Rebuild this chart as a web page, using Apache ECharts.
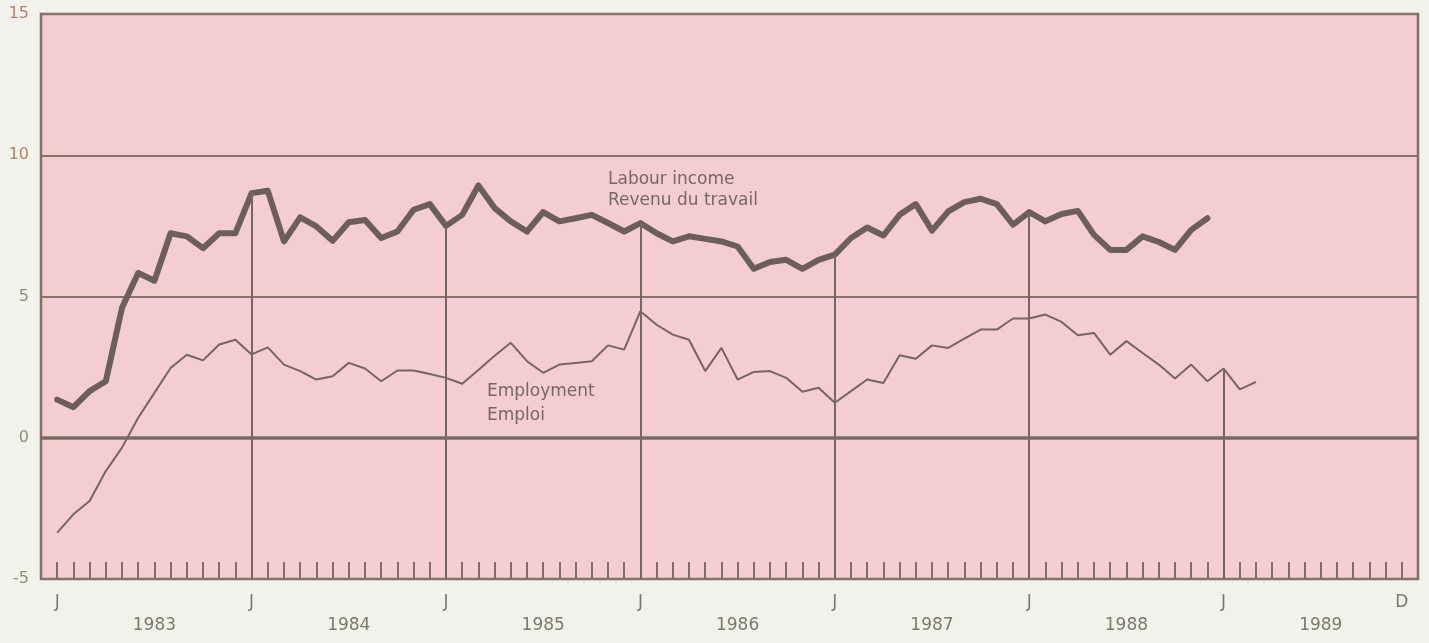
<!DOCTYPE html>
<html>
<head>
<meta charset="utf-8">
<script src="https://cdn.jsdelivr.net/npm/echarts@6/dist/echarts.min.js"></script>
<style>
  html, body { margin: 0; padding: 0; background: #f2f2ec; }
  #chart { width: 1429px; height: 643px; }
</style>
</head>
<body>
<div id="chart"></div>
<script>
// months counted from Jan 1983 (index 0) to Dec 1989 (index 83)
const years = [1983, 1984, 1985, 1986, 1987, 1988, 1989];
const yearStarts = [12, 24, 36, 48, 60, 72];

// Labour income, Jan 1983 - Dec 1988
const labour = [
  1.35, 1.08, 1.65, 2.0, 4.6, 5.83, 5.56, 7.24, 7.13, 6.71, 7.24, 7.24,
  8.66, 8.74, 6.95, 7.8, 7.48, 6.97, 7.63, 7.71, 7.07, 7.3, 8.07, 8.27,
  7.5, 7.89, 8.93, 8.13, 7.66, 7.3, 7.99, 7.66, 7.77, 7.89, 7.6, 7.3,
  7.6, 7.24, 6.95, 7.13, 7.04, 6.95, 6.77, 5.98, 6.22, 6.3, 5.98, 6.3,
  6.48, 7.07, 7.44, 7.16, 7.89, 8.27, 7.33, 8.01, 8.34, 8.46, 8.27, 7.54,
  7.99, 7.66, 7.92, 8.03, 7.18, 6.65, 6.65, 7.13, 6.93, 6.65, 7.36, 7.77
];

// Employment, Jan 1983 - Mar 1989
const employment = [
  -3.36, -2.71, -2.24, -1.18, -0.35, 0.71, 1.59, 2.47, 2.94, 2.74, 3.3, 3.47,
  2.95, 3.2, 2.59, 2.36, 2.06, 2.18, 2.65, 2.45, 2.0, 2.38, 2.38, 2.26,
  2.12, 1.91, 2.4, 2.9, 3.36, 2.71, 2.3, 2.59, 2.65, 2.71, 3.27, 3.12,
  4.48, 4.0, 3.65, 3.47, 2.36, 3.18, 2.06, 2.33, 2.36, 2.12, 1.63, 1.77,
  1.24, 1.65, 2.06, 1.94, 2.92, 2.8, 3.27, 3.18, 3.51, 3.83, 3.83, 4.22,
  4.22, 4.36, 4.1, 3.63, 3.71, 2.94, 3.42, 3.0, 2.59, 2.1, 2.59, 2.0,
  2.45, 1.71, 1.98
];

const lineColor = "#6c5e58";
const gridColor = "#7f6f66";
const textColor = "#76695f";

const chart = echarts.init(document.getElementById("chart"));

// vertical year lines rise from the bottom to the upper curve
const yearLines = yearStarts.map((i) => {
  const top = Math.max(
    labour[i] !== undefined ? labour[i] : -5,
    employment[i] !== undefined ? employment[i] : -5
  );
  return [{ coord: [i, -5] }, { coord: [i, top] }];
});

const monthLabel = (v) => {
  if (v === 83) return "D";
  if (v >= 0 && v < 84 && v % 12 === 0) return "J";
  if (v >= 0 && v < 84 && v % 12 === 6) return "\n" + years[Math.floor(v / 12)];
  return "";
};

chart.setOption({
  animation: false,
  backgroundColor: "#f2f2ec",
  grid: {
    left: 41,
    right: 11,
    top: 14,
    bottom: 64,
    show: true,
    backgroundColor: "#f3cdd0",
    borderColor: gridColor,
    borderWidth: 2.5,
  },
  xAxis: {
    type: "value",
    min: -1,
    max: 84,
    interval: 1,
    axisLine: { show: false, onZero: false },
    splitLine: { show: false },
    axisTick: {
      show: true,
      inside: true,
      length: 17,
      lineStyle: { color: gridColor, width: 2 },
    },
    axisLabel: {
      margin: 12,
      fontFamily: "DejaVu Sans",
      fontSize: 17,
      lineHeight: 23,
      color: "#7d786e",
      formatter: monthLabel,
    },
  },
  yAxis: {
    type: "value",
    min: -5,
    max: 15,
    interval: 5,
    axisLine: { show: false },
    axisTick: { show: false },
    splitLine: { lineStyle: { color: "#857468", width: 2 } },
    axisLabel: {
      margin: 12,
      fontFamily: "DejaVu Sans",
      fontSize: 16,
      color: (v) => (v >= 10 ? "#b3826c" : "#8a8f72"),
    },
  },
  series: [
    {
      name: "Employment",
      type: "line",
      data: employment.map((v, i) => [i, v]),
      symbol: "none",
      lineStyle: { color: "#75665e", width: 2 },
      markLine: {
        silent: true,
        symbol: ["none", "none"],
        label: { show: false },
        lineStyle: { color: "#76675f", width: 2, type: "solid" },
        data: yearLines,
      },
    },
    {
      name: "Labour income",
      type: "line",
      data: labour.map((v, i) => [i, v]),
      symbol: "none",
      lineStyle: { color: lineColor, width: 6, join: "round", cap: "round" },
      markLine: {
        silent: true,
        symbol: ["none", "none"],
        label: { show: false },
        lineStyle: { color: "#7a6a62", width: 3.5, type: "solid" },
        data: [{ yAxis: 0 }],
      },
    },
  ],
  graphic: [
    { type: "text", left: 608, top: 171, style: { text: "Labour income", fill: textColor, font: '17px "DejaVu Sans"' } },
    { type: "text", left: 608, top: 192, style: { text: "Revenu du travail", fill: textColor, font: '17px "DejaVu Sans"' } },
    { type: "text", left: 487, top: 383, style: { text: "Employment", fill: textColor, font: '17px "DejaVu Sans"' } },
    { type: "text", left: 487, top: 407, style: { text: "Emploi", fill: textColor, font: '17px "DejaVu Sans"' } },
  ],
});
</script>
</body>
</html>
